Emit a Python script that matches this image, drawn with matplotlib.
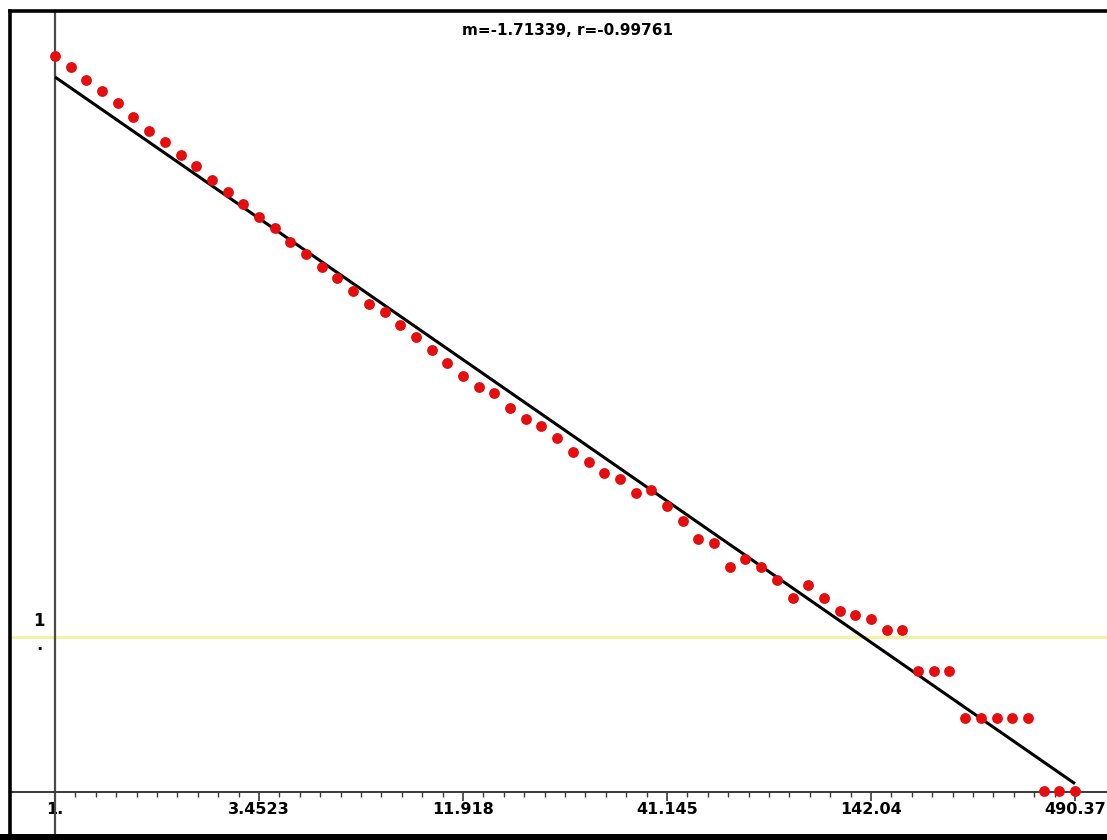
import matplotlib
matplotlib.use("Agg")
import matplotlib.pyplot as plt
import numpy as np
from matplotlib.lines import Line2D
from matplotlib.patches import Rectangle
from matplotlib.ticker import FixedLocator, NullLocator, NullFormatter, FixedFormatter

# ---- data ----
x_values = [1.0, 1.1, 1.21, 1.331, 1.4641, 1.6105, 1.7716, 1.9487, 2.1436, 2.3579,
            2.5937, 2.8531, 3.1384, 3.4523, 3.7975, 4.1772, 4.595, 5.0545, 5.5599, 6.1159,
            6.7275, 7.4002, 8.1403, 8.9543, 9.8497, 10.835, 11.918, 13.11, 14.421, 15.863,
            17.449, 19.194, 21.114, 23.225, 25.548, 28.102, 30.913, 34.004, 37.404, 41.145,
            45.259, 49.785, 54.764, 60.24, 66.264, 72.89, 80.18, 88.197, 97.017, 106.72,
            117.39, 129.13, 142.04, 156.25, 171.87, 189.06, 207.97, 228.76, 251.64, 276.8,
            304.48, 334.93, 368.42, 405.27, 445.79, 490.37]
y_values = [6118, 5186, 4268, 3618, 3021, 2448, 1984, 1681, 1383, 1173,
            950, 793, 663, 545, 462, 374, 313, 257, 218, 179,
            148, 131, 108, 89.9, 74.0, 60.8, 50.0, 42.4, 38.8, 30.9,
            26.2, 23.6, 19.7, 16.0, 13.7, 11.7, 10.65, 8.63, 9.03, 7.10,
            5.67, 4.33, 4.07, 2.84, 3.20, 2.84, 2.34, 1.78, 2.17, 1.78,
            1.47, 1.38, 1.30, 1.10, 1.10, 0.596, 0.596, 0.596, 0.294, 0.294,
            0.294, 0.294, 0.294, 0.0982, 0.0982, 0.0982]
tick_values = [1.0, 3.4523, 11.918, 41.145, 142.04, 490.37]
tick_labels = ["1.", "3.4523", "11.918", "41.145", "142.04", "490.37"]
fit_slope = -1.71339
fit_r = -0.99761
fit_at_one = 4464.0   # fitted value at x = 1
ref_level = 1.0       # yellow reference line

W, H = 1107, 840
fig = plt.figure(figsize=(W / 100, H / 100), dpi=100)
fig.patch.set_facecolor("white")

# axes inside the frame
ax_left, ax_right, ax_top, ax_bot = 10, 1107, 11, 834
ax = fig.add_axes([ax_left / W, (H - ax_bot) / H, (ax_right - ax_left) / W, (ax_bot - ax_top) / H])
ax.set_facecolor("white")
ax.set_xscale("log")
ax.set_yscale("log")

# limits so that x=1 -> px 55, x=490.37 -> px 1075 ; y=1 -> px 636.5, 153.3 px/decade
ppd_x = (1075 - 55) / np.log10(490.37)
ppd_y = 153.3
ax.set_xlim(10 ** ((ax_left - 55) / ppd_x), 10 ** ((ax_right - 55) / ppd_x))
ax.set_ylim(10 ** ((636.5 - ax_bot) / ppd_y), 10 ** ((636.5 - ax_top) / ppd_y))

# reference line
ax.axhline(ref_level, color="#f2f29a", lw=2.0, zorder=1)

# fit line
xf = np.array([min(x_values), max(x_values)])
yf = fit_at_one * xf ** fit_slope
ax.plot(xf, yf, color="black", lw=2.2, zorder=3, solid_capstyle="butt")

# data points
ax.plot(x_values, y_values, linestyle="none", marker="o", markersize=7.8,
        color="#e50d0d", markeredgewidth=0, zorder=4)

# axes lines positioned at data min
for s in ["top", "right"]:
    ax.spines[s].set_visible(False)
ax.spines["left"].set_position(("data", min(x_values)))
ax.spines["bottom"].set_position(("data", min(y_values) * 0.985))
ax.spines["left"].set_color("#4a4a4a")
ax.spines["bottom"].set_color("#3a3a3a")
ax.spines["left"].set_linewidth(1.6)
ax.spines["bottom"].set_linewidth(1.4)
ax.spines["left"].set_zorder(2)

ax.yaxis.set_major_locator(NullLocator())
ax.yaxis.set_minor_locator(NullLocator())

ax.xaxis.set_major_locator(FixedLocator(tick_values))
ax.xaxis.set_major_formatter(FixedFormatter(tick_labels))
lo, hi = np.log10(tick_values[0]), np.log10(tick_values[-1])
minor = [10 ** v for v in np.linspace(lo, hi, 51)]
ax.xaxis.set_minor_locator(FixedLocator(minor))
ax.xaxis.set_minor_formatter(NullFormatter())
ax.tick_params(axis="x", which="major", direction="out", length=6.5, width=1.2,
               color="#3a3a3a", pad=1.0, labelsize=11.5)
ax.tick_params(axis="x", which="minor", direction="out", length=3.6, width=1.0,
               color="#3a3a3a")
for lab in ax.get_xticklabels():
    lab.set_fontweight("bold")
    lab.set_fontfamily("DejaVu Sans")

# frame
fig.add_artist(Line2D([ax_left / W, 1.0], [1 - 11 / H, 1 - 11 / H], transform=fig.transFigure,
                      color="black", lw=2.6))
fig.add_artist(Line2D([ax_left / W, ax_left / W], [0, 1 - 11 / H], transform=fig.transFigure,
                      color="black", lw=2.6))
fig.add_artist(Rectangle((0, 0), 1, 6.5 / H, transform=fig.transFigure, color="black", lw=0))

# title text
fig.text(567 / W, 1 - 30.5 / H, "m=%.5f, r=%.5f" % (fit_slope, fit_r), ha="center", va="center",
         fontsize=11, fontweight="bold", family="DejaVu Sans")

# y label "1." stacked at the reference line
fig.text(39 / W, 1 - 621 / H, "1", ha="center", va="center", fontsize=12, fontweight="bold")
fig.text(39 / W, 1 - 645 / H, ".", ha="center", va="center", fontsize=12, fontweight="bold")

fig.savefig("out.png", dpi=100, facecolor="white")
